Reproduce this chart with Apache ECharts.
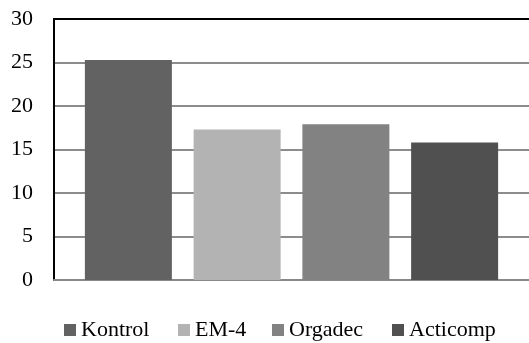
<!DOCTYPE html>
<html><head><meta charset="utf-8">
<script src="https://cdn.jsdelivr.net/npm/echarts@6/dist/echarts.min.js"></script>
<style>html,body{margin:0;padding:0;background:#fff}#c{width:529px;height:343px}</style>
</head><body><div id="c"></div>
<script>
var categories = ['Kontrol', 'EM-4', 'Orgadec', 'Acticomp'];
var values = [25.3, 17.3, 17.9, 15.8];
var colors = ['#626262', '#b3b3b3', '#828282', '#505050'];
var yTicks = [0, 5, 10, 15, 20, 25, 30];
var legendLeft = [59, 173, 267, 387];

var font = '"Liberation Serif", "Times New Roman", serif';
var chart = echarts.init(document.getElementById('c'));
var series = categories.map(function (name, i) {
  return {
    name: name, type: 'bar', data: [values[i]],
    barWidth: 87, barGap: '25%',
    itemStyle: { color: colors[i] }
  };
});
var legends = categories.map(function (name, i) {
  return {
    data: [name], left: legendLeft[i], top: 314,
    itemWidth: 12, itemHeight: 12, itemGap: 0,
    icon: 'rect',
    textStyle: { fontFamily: font, fontSize: 22, color: '#000', padding: [0, 0, 0, 0] }
  };
});
chart.setOption({
  animation: false,
  color: colors,
  grid: { left: 54, right: -8, top: 19, bottom: 63 },
  legend: legends,
  xAxis: [{
    type: 'category', data: [''],
    axisLine: { lineStyle: { color: '#888', width: 2 } },
    axisTick: { show: false }, axisLabel: { show: false }
  }, {
    type: 'category', data: [''], position: 'top',
    axisLine: { lineStyle: { color: '#000', width: 2 } },
    axisTick: { show: false }, axisLabel: { show: false }
  }],
  yAxis: {
    type: 'value', min: yTicks[0], max: yTicks[yTicks.length - 1], interval: 5,
    axisLine: { show: true, lineStyle: { color: '#000', width: 2 } },
    axisTick: { show: false },
    splitLine: { lineStyle: { color: '#8c8c8c', width: 2 } },
    axisLabel: { fontFamily: font, fontSize: 22, color: '#000', margin: 21 }
  },
  series: series
});
</script></body></html>
